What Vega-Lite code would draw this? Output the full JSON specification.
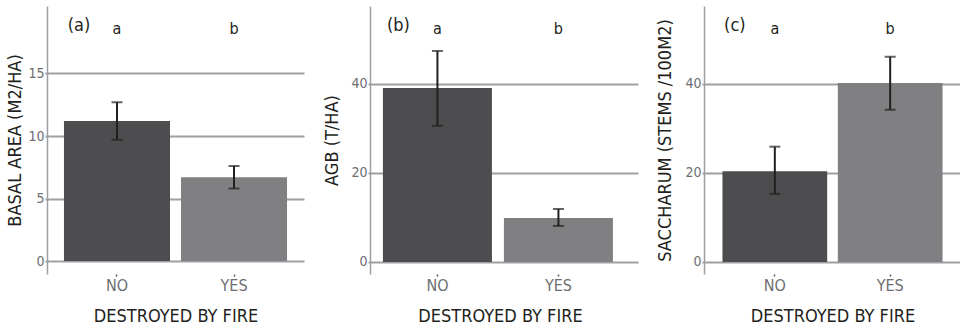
{
  "$schema": "https://vega.github.io/schema/vega-lite/v6.json",
  "padding": {"left": 6, "top": 6, "right": 0, "bottom": 0},
  "background": "white",
  "datasets": {
    "bars": [
      {"panel": "a", "fire": "NO", "mean": 11.2, "lo": 9.7, "hi": 12.7, "letter": "a", "tag": "(a)"},
      {"panel": "a", "fire": "YES", "mean": 6.7, "lo": 5.8, "hi": 7.6, "letter": "b", "tag": "(a)"},
      {"panel": "b", "fire": "NO", "mean": 39.1, "lo": 30.6, "hi": 47.4, "letter": "a", "tag": "(b)"},
      {"panel": "b", "fire": "YES", "mean": 9.9, "lo": 8.1, "hi": 11.9, "letter": "b", "tag": "(b)"},
      {"panel": "c", "fire": "NO", "mean": 20.4, "lo": 15.3, "hi": 25.9, "letter": "a", "tag": "(c)"},
      {"panel": "c", "fire": "YES", "mean": 40.2, "lo": 34.2, "hi": 46.1, "letter": "b", "tag": "(c)"}
    ]
  },
  "config": {
    "view": {"stroke": null},
    "font": "DejaVu Sans Condensed",
    "text": {"font": "DejaVu Sans Condensed"},
    "axisY": {
      "domainColor": "#9d9fa2", "domainWidth": 1.5,
      "gridColor": "#9d9fa2", "gridWidth": 2, "gridOpacity": 1,
      "tickColor": "#9d9fa2", "tickSize": 2, "tickWidth": 2,
      "labelColor": "#6d6e71", "labelFontSize": 14, "labelPadding": 1,
      "labelFont": "DejaVu Sans Condensed",
      "titleFont": "DejaVu Sans Condensed", "titleFontSize": 18, "titleFontWeight": "normal",
      "titleColor": "#231f20", "titlePadding": 3
    },
    "axisX": {
      "domain": false, "grid": false,
      "tickColor": "#58595b", "tickSize": 2, "tickWidth": 1.5,
      "labelColor": "#6d6e71", "labelFontSize": 16, "labelPadding": 1, "labelAngle": 0,
      "labelFont": "DejaVu Sans Condensed",
      "titleFont": "DejaVu Sans Condensed", "titleFontSize": 18, "titleFontWeight": "normal",
      "titleColor": "#231f20", "titlePadding": 14
    }
  },
  "bounds": "flush",
  "spacing": 66,
  "hconcat": [
    {
      "width": 257, "height": 268,
      "data": {"name": "bars"},
      "transform": [{"filter": "datum.panel == 'a'"}],
      "encoding": {
        "x": {"field": "fire", "type": "nominal", "title": "DESTROYED BY FIRE",
              "scale": {"paddingInner": 0.094, "paddingOuter": 0.145}}
      },
      "layer": [
        {"mark": {"type": "bar"},
         "encoding": {
           "y": {"field": "mean", "type": "quantitative", "title": "BASAL AREA (M2/HA)",
                 "scale": {"domain": [-1.04, 20.4], "nice": false, "zero": false},
                 "axis": {"values": [0, 5, 10, 15]}},
           "y2": {"datum": 0},
           "color": {"field": "fire", "type": "nominal", "legend": null,
                     "scale": {"range": ["#4d4d4f", "#808083"]}}
         }},
        {"mark": {"type": "rule", "color": "#231f20", "strokeWidth": 2},
         "encoding": {"y": {"field": "lo", "type": "quantitative", "title": "BASAL AREA (M2/HA)"}, "y2": {"field": "hi"}}},
        {"mark": {"type": "tick", "color": "#231f20", "thickness": 2, "size": 11, "orient": "horizontal"},
         "encoding": {"y": {"field": "lo", "type": "quantitative", "title": "BASAL AREA (M2/HA)"}}},
        {"mark": {"type": "tick", "color": "#231f20", "thickness": 2, "size": 11, "orient": "horizontal"},
         "encoding": {"y": {"field": "hi", "type": "quantitative", "title": "BASAL AREA (M2/HA)"}}},
        {"mark": {"type": "text", "fontSize": 16, "color": "#231f20", "baseline": "middle"},
         "encoding": {"y": {"datum": 18.56, "type": "quantitative"}, "text": {"field": "letter"}}},
        {"transform": [{"filter": "datum.fire == 'NO'"}],
         "mark": {"type": "text", "fontSize": 18, "color": "#231f20", "baseline": "middle", "dx": -38},
         "encoding": {"y": {"datum": 18.8, "type": "quantitative"}, "text": {"field": "tag"}}}
      ]
    },
    {
      "width": 268, "height": 268,
      "data": {"name": "bars"},
      "transform": [{"filter": "datum.panel == 'b'"}],
      "encoding": {
        "x": {"field": "fire", "type": "nominal", "title": "DESTROYED BY FIRE",
              "axis": {"titleX": 130},
              "scale": {"paddingInner": 0.099, "paddingOuter": 0.157, "align": 0.34}}
      },
      "layer": [
        {"mark": {"type": "bar"},
         "encoding": {
           "y": {"field": "mean", "type": "quantitative", "title": "AGB (T/HA)",
                 "scale": {"domain": [-2.7, 57.5], "nice": false, "zero": false},
                 "axis": {"values": [0, 20, 40], "titlePadding": 9}},
           "y2": {"datum": 0},
           "color": {"field": "fire", "type": "nominal", "legend": null,
                     "scale": {"range": ["#4d4d4f", "#808083"]}}
         }},
        {"mark": {"type": "rule", "color": "#231f20", "strokeWidth": 2},
         "encoding": {"y": {"field": "lo", "type": "quantitative", "title": "AGB (T/HA)"}, "y2": {"field": "hi"}}},
        {"mark": {"type": "tick", "color": "#231f20", "thickness": 2, "size": 11, "orient": "horizontal"},
         "encoding": {"y": {"field": "lo", "type": "quantitative", "title": "AGB (T/HA)"}}},
        {"mark": {"type": "tick", "color": "#231f20", "thickness": 2, "size": 11, "orient": "horizontal"},
         "encoding": {"y": {"field": "hi", "type": "quantitative", "title": "AGB (T/HA)"}}},
        {"mark": {"type": "text", "fontSize": 16, "color": "#231f20", "baseline": "middle"},
         "encoding": {"y": {"datum": 52.4, "type": "quantitative"}, "text": {"field": "letter"}}},
        {"transform": [{"filter": "datum.fire == 'NO'"}],
         "mark": {"type": "text", "fontSize": 18, "color": "#231f20", "baseline": "middle", "dx": -39},
         "encoding": {"y": {"datum": 53.1, "type": "quantitative"}, "text": {"field": "tag"}}}
      ]
    },
    {
      "width": 257, "height": 268,
      "data": {"name": "bars"},
      "transform": [{"filter": "datum.panel == 'c'"}],
      "encoding": {
        "x": {"field": "fire", "type": "nominal", "title": "DESTROYED BY FIRE",
              "scale": {"paddingInner": 0.092, "paddingOuter": 0.16}}
      },
      "layer": [
        {"mark": {"type": "bar"},
         "encoding": {
           "y": {"field": "mean", "type": "quantitative", "title": "SACCHARUM (STEMS /100M2)",
                 "scale": {"domain": [-2.7, 57.5], "nice": false, "zero": false},
                 "axis": {"values": [0, 20, 40], "titlePadding": 10}},
           "y2": {"datum": 0},
           "color": {"field": "fire", "type": "nominal", "legend": null,
                     "scale": {"range": ["#4d4d4f", "#808083"]}}
         }},
        {"mark": {"type": "rule", "color": "#231f20", "strokeWidth": 2},
         "encoding": {"y": {"field": "lo", "type": "quantitative", "title": "SACCHARUM (STEMS /100M2)"}, "y2": {"field": "hi"}}},
        {"mark": {"type": "tick", "color": "#231f20", "thickness": 2, "size": 11, "orient": "horizontal"},
         "encoding": {"y": {"field": "lo", "type": "quantitative", "title": "SACCHARUM (STEMS /100M2)"}}},
        {"mark": {"type": "tick", "color": "#231f20", "thickness": 2, "size": 11, "orient": "horizontal"},
         "encoding": {"y": {"field": "hi", "type": "quantitative", "title": "SACCHARUM (STEMS /100M2)"}}},
        {"mark": {"type": "text", "fontSize": 16, "color": "#231f20", "baseline": "middle"},
         "encoding": {"y": {"datum": 52.4, "type": "quantitative"}, "text": {"field": "letter"}}},
        {"transform": [{"filter": "datum.fire == 'NO'"}],
         "mark": {"type": "text", "fontSize": 18, "color": "#231f20", "baseline": "middle", "dx": -40},
         "encoding": {"y": {"datum": 53.1, "type": "quantitative"}, "text": {"field": "tag"}}}
      ]
    }
  ]
}
